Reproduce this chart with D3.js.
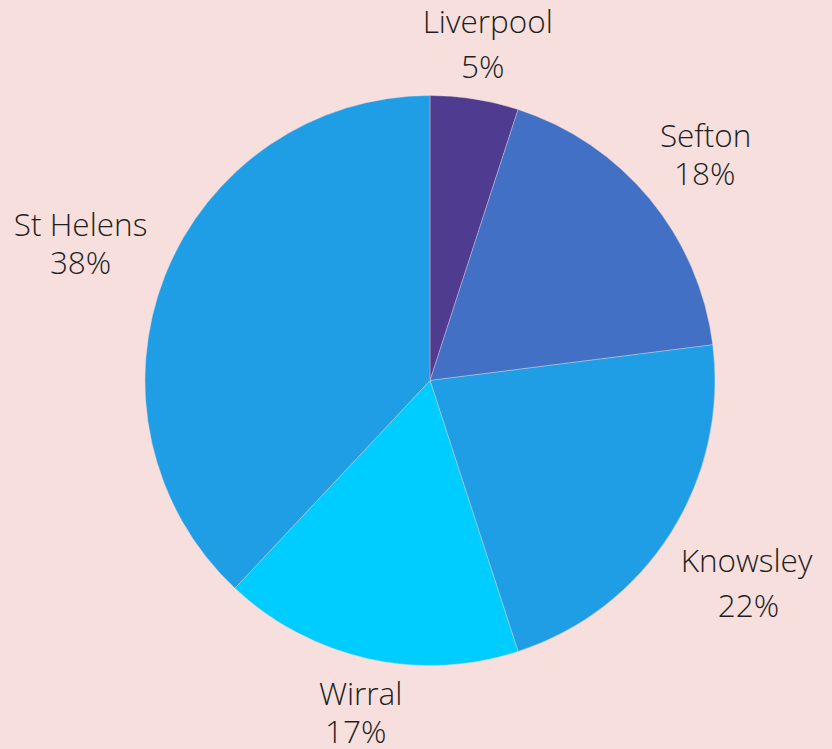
<!DOCTYPE html>
<html>
<head>
<meta charset="utf-8">
<script src="https://cdn.jsdelivr.net/npm/d3@7"></script>
<style>
  html, body { margin: 0; padding: 0; background: #f7dfde; }
  svg { display: block; }
  text { font-family: "Open Sans", "Noto Sans", sans-serif; font-weight: 300; fill: #1f1f1f; }
</style>
</head>
<body>
<svg id="chart" width="832" height="749"></svg>
<script>
// Share of total by borough, clockwise from 12 o'clock
const boroughs = ["Liverpool", "Sefton", "Knowsley", "Wirral", "St Helens"];
const shares = [5, 18, 22, 17, 38];
const sliceColors = ["#4f3b8f", "#4270c4", "#1f9ee6", "#00cdff", "#1f9ee6"];

const width = 832, height = 749;
const cx = 430, cy = 380.5, radius = 285;

// Label placement: outer ring radius plus per-label adjustments (name line, percent line)
const labelRadius = 350;
const nameShift = [[3, -2], [6, -10], [21, 4], [7, -17], [-24, -16]];
const pctShift  = [[-2, 43], [5, 28], [23, 49], [2, 21], [-24, 22]];

const svg = d3.select("#chart");
const g = svg.append("g").attr("transform", `translate(${cx},${cy})`);

const data = boroughs.map((name, i) => ({ name, value: shares[i], color: sliceColors[i] }));

const pie = d3.pie().value(d => d.value).sort(null);
const arcs = pie(data);

const arc = d3.arc().innerRadius(0).outerRadius(radius);
const labelArc = d3.arc().innerRadius(labelRadius).outerRadius(labelRadius);

g.selectAll("path.slice")
  .data(arcs)
  .join("path")
  .attr("class", "slice")
  .attr("d", arc)
  .attr("fill", d => d.data.color)
  .attr("stroke", "#f3d9dc")
  .attr("stroke-opacity", 0.6)
  .attr("stroke-width", 0.6);

const labels = g.selectAll("g.label")
  .data(arcs)
  .join("g")
  .attr("class", "label");

labels.append("text")
  .attr("text-anchor", "middle")
  .attr("font-size", 31.5)
  .attr("x", (d, i) => labelArc.centroid(d)[0] + nameShift[i][0])
  .attr("y", (d, i) => labelArc.centroid(d)[1] + nameShift[i][1])
  .text(d => d.data.name);

labels.append("text")
  .attr("text-anchor", "middle")
  .attr("font-size", 31.5)
  .attr("x", (d, i) => labelArc.centroid(d)[0] + pctShift[i][0])
  .attr("y", (d, i) => labelArc.centroid(d)[1] + pctShift[i][1])
  .text(d => d.data.value + "%");
</script>
</body>
</html>
